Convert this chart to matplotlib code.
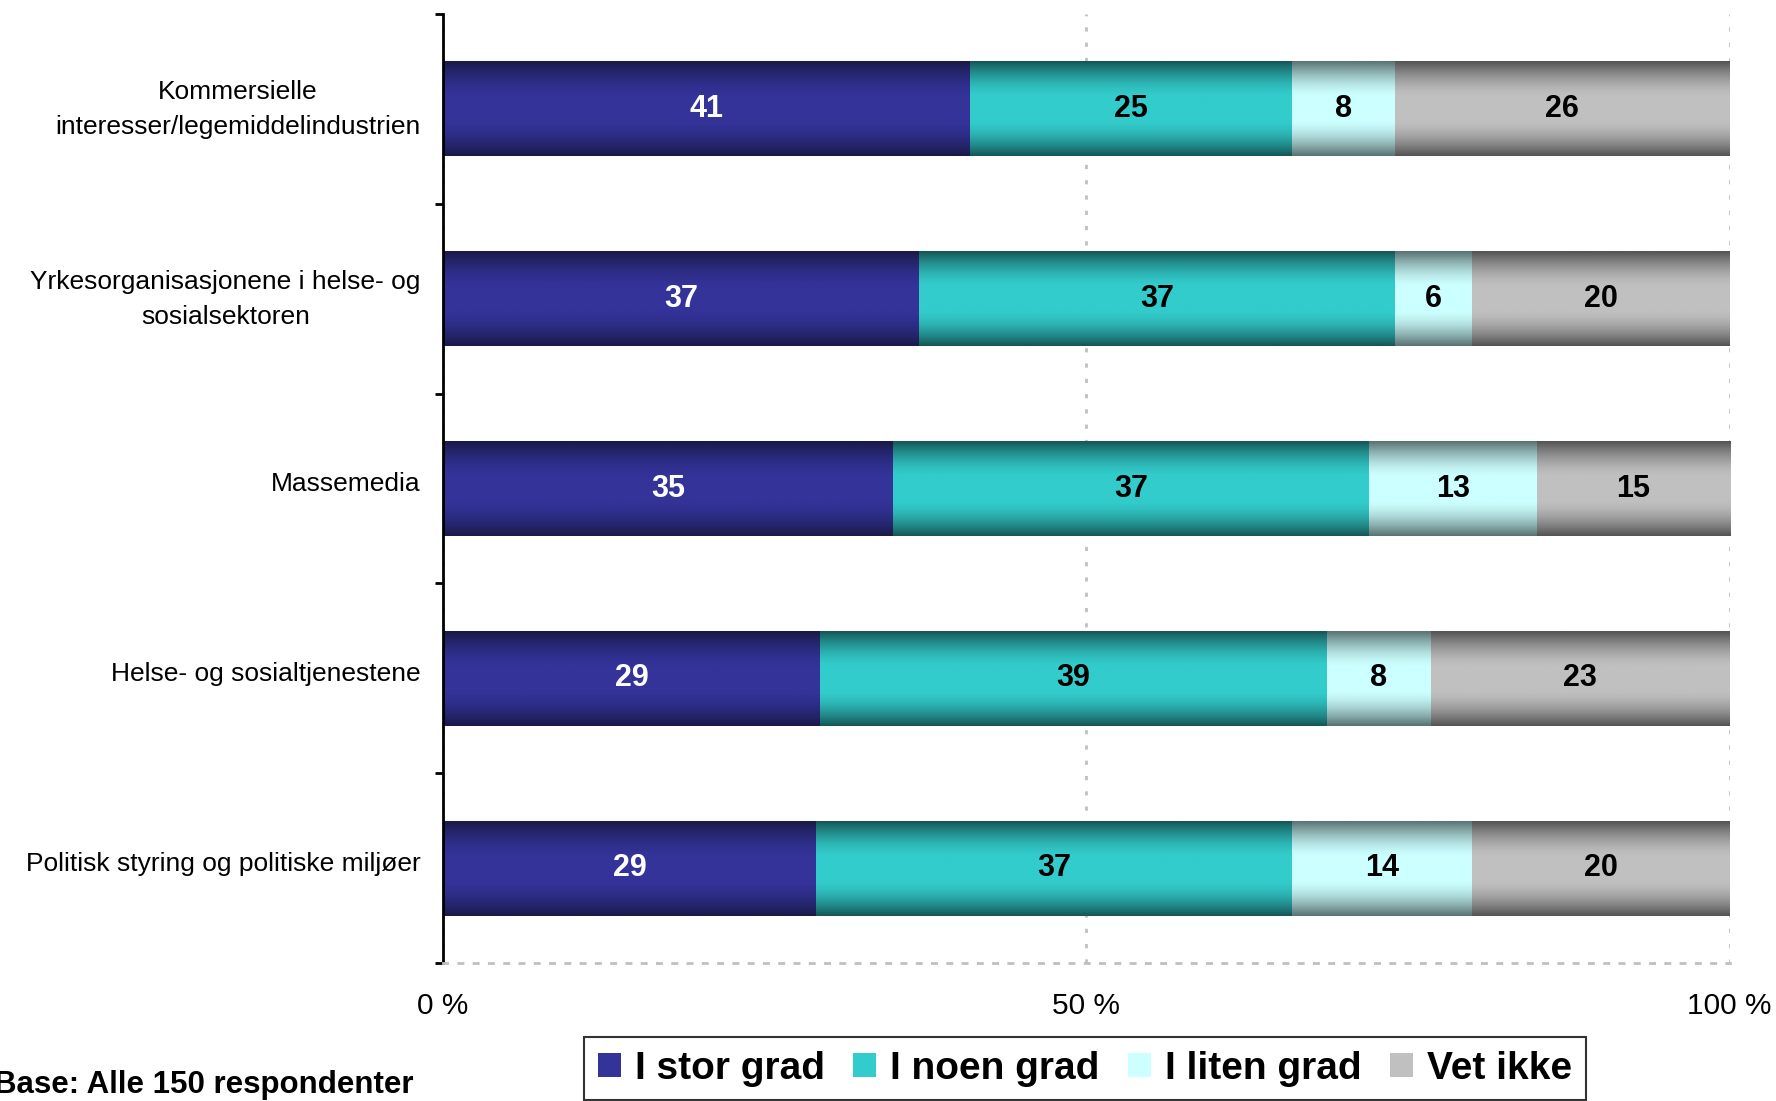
import matplotlib.pyplot as plt
import matplotlib.colors as mcolors
import matplotlib.transforms as mtransforms
import numpy as np

plt.rcParams['font.family'] = ['Liberation Sans', 'DejaVu Sans']

# data
categories = [
    "Kommersielle\ninteresser/legemiddelindustrien",
    "Yrkesorganisasjonene i helse- og\nsosialsektoren",
    "Massemedia",
    "Helse- og sosialtjenestene",
    "Politisk styring og politiske miljøer",
]
series_names = ["I stor grad", "I noen grad", "I liten grad", "Vet ikke"]
stor_grad = [41, 37, 35, 29, 29]
noen_grad = [25, 37, 37, 39, 37]
liten_grad = [8, 6, 13, 8, 14]
vet_ikke = [26, 20, 15, 23, 20]
x_ticks = [0, 50, 100]
x_ticklabels = ["0 %", "50 %", "100 %"]
base_text = "Base: Alle 150 respondenter"

# colors: (edge, centre) for the vertical gradient
grad_colors = [
    ("#1a1a4a", "#333399"),
    ("#165858", "#33cccc"),
    ("#5c7474", "#ccffff"),
    ("#555555", "#c0c0c0"),
]
label_colors = ["white", "black", "black", "black"]

values = np.array([stor_grad, noen_grad, liten_grad, vet_ikke], dtype=float)
shares = values / values.sum(axis=0) * 100

fig = plt.figure(figsize=(17.76, 11.01), dpi=100)
ax = fig.add_axes([0.2494, 0.1253, 0.7245, 0.8619])

y = np.arange(len(categories))
left = np.zeros(len(categories))

# gradient profile across bar height
t = np.linspace(0, 1, 64)
s = np.abs(2 * t - 1)
w = np.where(s < 0.25, 1.0, 1 - ((s - 0.25) / 0.75) ** 1.6)

for i, name in enumerate(series_names):
    bars = ax.barh(y, shares[i], left=left, height=0.5, color=grad_colors[i][1],
                   label=name, zorder=2)
    c0 = np.array(mcolors.to_rgb(grad_colors[i][0]))
    c1 = np.array(mcolors.to_rgb(grad_colors[i][1]))
    img = (c0[None, :] * (1 - w[:, None]) + c1[None, :] * w[:, None])[:, None, :]
    for p in bars.patches:
        x0, y0 = p.get_x(), p.get_y()
        ax.imshow(img, extent=(x0, x0 + p.get_width(), y0 + p.get_height(), y0),
                  aspect='auto', interpolation='bilinear', zorder=2.5)
    ax.bar_label(bars, labels=[str(int(v)) for v in values[i]], label_type='center',
                 color=label_colors[i], fontsize=22, fontweight='bold', zorder=4)
    left += shares[i]

ax.set_xlim(0, 100)
ax.set_ylim(len(categories) - 0.5, -0.5)

# axes styling
ax.spines['top'].set_visible(False)
ax.spines['right'].set_visible(False)
ax.spines['left'].set_color('black')
ax.spines['left'].set_linewidth(2)
ax.spines['bottom'].set_color('#c0c0c0')
ax.spines['bottom'].set_linewidth(2)
ax.spines['bottom'].set_linestyle((0, (1.5, 4)))

ax.set_xticks(x_ticks)
ax.set_xticklabels(x_ticklabels)
ax.tick_params(axis='x', length=0, pad=21, labelsize=21.5)
ax.xaxis.grid(True, color='#c0c0c0', linestyle=(0, (1.5, 4)), linewidth=2)
ax.set_axisbelow(True)

ax.set_yticks(np.arange(-0.5, len(categories), 1))
ax.set_yticklabels([])
ax.set_yticks(y, minor=True)
ax.set_yticklabels(categories, minor=True, fontsize=19, multialignment='center',
                   linespacing=1.55)
ax.tick_params(axis='y', which='major', length=6, width=2, direction='out')
ax.tick_params(axis='y', which='minor', length=0, pad=16)
# nudge category labels up a little
shift = mtransforms.ScaledTranslation(0, 0.07, fig.dpi_scale_trans)
for lab in ax.get_yticklabels(minor=True):
    lab.set_transform(lab.get_transform() + shift)

leg = fig.legend(loc='upper left', bbox_to_anchor=(584 / 1776, 1 - 1037 / 1101),
                 ncol=4, frameon=True, fancybox=False, edgecolor='black',
                 prop={'size': 28, 'weight': 'bold'}, handlelength=0.6,
                 handleheight=0.6, handletextpad=0.36, columnspacing=0.72,
                 borderpad=0.35, borderaxespad=0)
leg.get_frame().set_linewidth(1.5)

fig.text(413 / 1776, 1 - 1093 / 1101, base_text, ha='right', va='baseline',
         fontsize=22.5, fontweight='bold')

plt.savefig('out.png', dpi=100)
